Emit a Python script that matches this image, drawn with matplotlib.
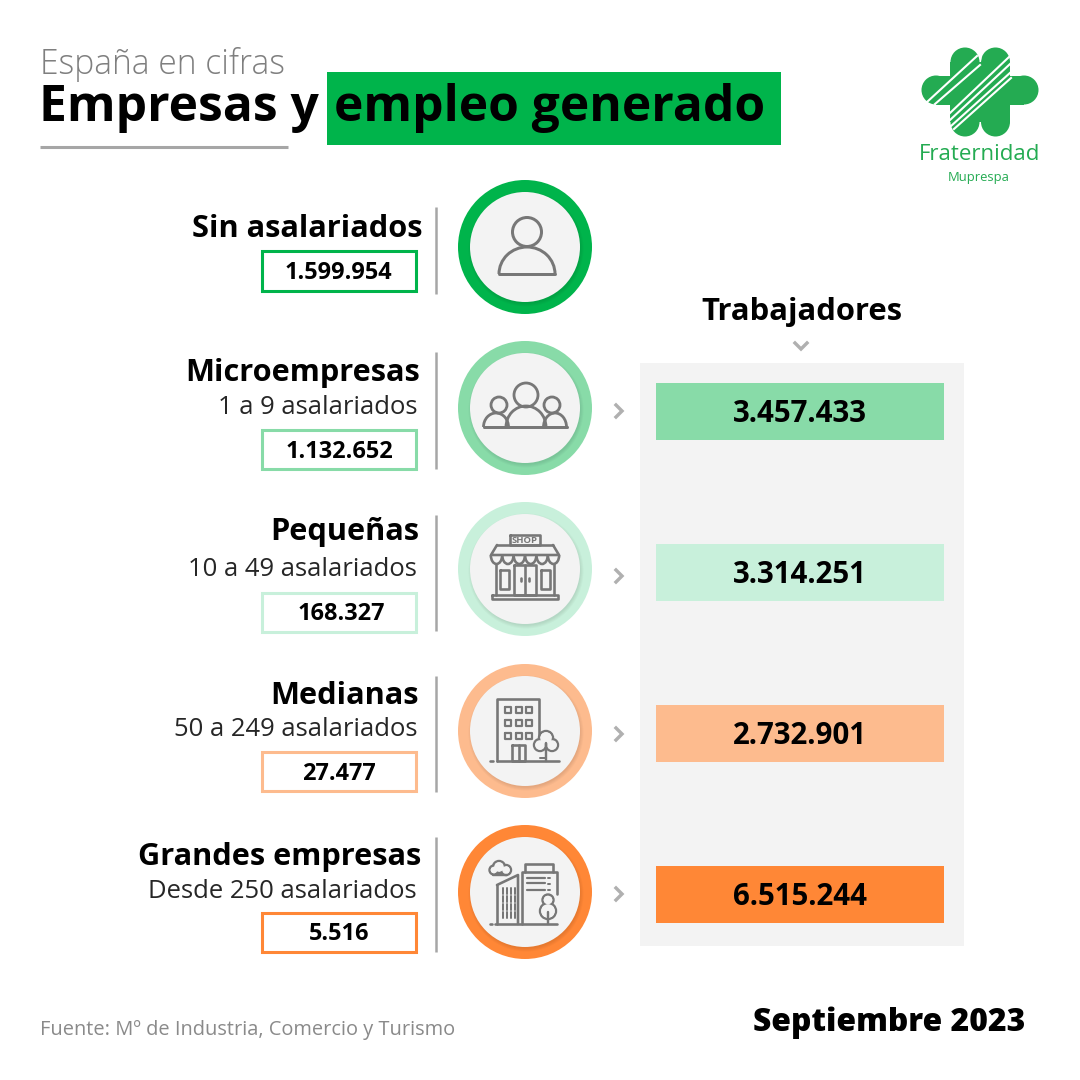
import matplotlib
matplotlib.use("Agg")
import matplotlib.pyplot as plt
from matplotlib.patches import Circle, Rectangle, Arc, Polygon

plt.rcParams['font.family'] = ['Open Sans', 'DejaVu Sans']

categories = ["Sin asalariados", "Microempresas", "Pequeñas", "Medianas", "Grandes empresas"]
sublabels = ["", "1 a 9 asalariados", "10 a 49 asalariados", "50 a 249 asalariados", "Desde 250 asalariados"]
empresas = ["1.599.954", "1.132.652", "168.327", "27.477", "5.516"]
trabajadores = ["", "3.457.433", "3.314.251", "2.732.901", "6.515.244"]
colors = ["#00b44b", "#88dba8", "#c8f0db", "#fdbb8e", "#ff8736"]

# layout, pixels from the top left
circle_y = [247, 408, 569, 731, 892]
circle_x = 525
name_y = [229, 373, 532, 696, 857]
name_x = [422, 420, 419, 419, 421]
sub_y = [0, 407, 569, 730, 891]
box_y = [(251, 291), (430, 469), (593, 632), (752, 791), (913, 952)]
box_text_x = [338, 339, 341, 339, 339]
line_y = [(207, 294), (352, 469), (515, 631), (676, 792), (837, 952)]
bar_y = [0, 383, 544, 705, 866]
chevron_y = [0, 411, 576, 734, 894]

ICON = "#777777"
LOGO = "#24ab52"
DISC = "#f3f3f3"


def px(size):
    return size * 0.72


def seg(ax, xs, ys, lw=2.6, z=6):
    ax.plot(xs, ys, color=ICON, lw=px(lw), solid_capstyle="round", solid_joinstyle="round", zorder=z)


def ring(ax, x, y, r, lw=2.6):
    ax.add_patch(Circle((x, y), r, fc="none", ec=ICON, lw=px(lw), zorder=6))


def dome(ax, x, y, w, h, lw=2.6):
    # half ellipse standing on its base line
    ax.add_patch(Arc((x, y), w, h * 2, theta1=180, theta2=360, ec=ICON, lw=px(lw), zorder=6))
    seg(ax, [x - w / 2, x + w / 2], [y, y], lw)


def box(ax, x0, y0, x1, y1, lw=2.6):
    seg(ax, [x0, x1, x1, x0, x0], [y0, y0, y1, y1, y0], lw)


def blob(ax, parts, lw=2.4):
    # outline of overlapping circles, inner edges hidden by a fill on top
    for cx, cy, r in parts:
        ax.add_patch(Circle((cx, cy), r, fc="none", ec=ICON, lw=px(lw), zorder=6))
    for cx, cy, r in parts:
        ax.add_patch(Circle((cx, cy), r - lw / 2, fc=DISC, ec="none", zorder=6.1))


def icon_person(ax, x, y):
    ring(ax, x + 2, y - 15, 14.5, 3)
    dome(ax, x + 2, y + 27, 56, 27, 3)


def icon_group(ax, x, y):
    ring(ax, x + 1, y - 13, 12, 2.8)
    ring(ax, x - 26, y - 3, 8, 2.8)
    ring(ax, x + 27, y - 3, 8, 2.8)
    dome(ax, x + 1, y + 19, 40, 21, 2.8)
    dome(ax, x - 29, y + 19, 25, 14, 2.8)
    dome(ax, x + 30, y + 19, 23, 14, 2.8)
    seg(ax, [x - 41, x + 42], [y + 19, y + 19], 2.8)


def icon_shop(ax, x, y):
    box(ax, x - 15, y - 34, x + 15, y - 24)
    ax.text(x, y - 28.5, "SHOP", ha="center", va="center", fontsize=px(9.5), fontweight="bold", color=ICON, zorder=6)
    seg(ax, [x - 28, x + 28], [y - 24, y - 24])
    seg(ax, [x - 28, x - 34, x + 34, x + 28], [y - 24, y - 14, y - 14, y - 24])
    for i in range(6):
        cx = x - 28.5 + i * 11.4
        ax.add_patch(Arc((cx, y - 14), 11.4, 18, theta1=0, theta2=180, ec=ICON, lw=px(2.6), zorder=6))
    seg(ax, [x - 29, x - 29], [y - 5, y + 26])
    seg(ax, [x + 29, x + 29], [y - 5, y + 26])
    box(ax, x - 25, y + 1, x - 16, y + 20)
    box(ax, x + 16, y + 1, x + 25, y + 20)
    box(ax, x - 11, y - 4, x + 11, y + 26)
    seg(ax, [x, x], [y - 4, y + 26])
    seg(ax, [x - 4, x - 4], [y + 9, y + 12])
    seg(ax, [x + 4, x + 4], [y + 9, y + 12])
    box(ax, x - 33, y + 26, x + 33, y + 30)


def icon_office(ax, x, y):
    seg(ax, [x - 28, x - 28, x + 14, x + 14], [y + 30, y - 32, y - 32, y + 5])
    for row in range(3):
        for col in range(3):
            bx = x - 20 + col * 10.5
            by = y - 24 + row * 13
            box(ax, bx, by, bx + 6, by + 6, 2.2)
    box(ax, x - 13, y + 14, x, y + 30)
    seg(ax, [x - 6.5, x - 6.5], [y + 14, y + 30])
    blob(ax, [(x + 21, y + 7, 7), (x + 15, y + 14, 6), (x + 27, y + 14, 6)])
    seg(ax, [x + 21, x + 21], [y + 12, y + 30], 2.4, z=6.2)
    seg(ax, [x + 15, x + 21], [y + 27, y + 27], 2.0, z=6.2)
    seg(ax, [x - 28, x + 34], [y + 30, y + 30])
    seg(ax, [x - 35, x - 32], [y + 30, y + 30])


def icon_towers(ax, x, y):
    # cloud
    blob(ax, [(x - 31, y - 22, 4.5), (x - 26, y - 25, 6), (x - 19, y - 22, 5)])
    seg(ax, [x - 32, x - 18], [y - 17, y - 17], 2.4, z=6.2)
    # glass tower
    seg(ax, [x - 28, x - 28], [y + 32, y - 7])
    seg(ax, [x - 28, x - 7, x - 7], [y - 7, y - 17, y + 32])
    for col in range(4):
        bx = x - 22 + col * 4
        for row in range(4):
            by = y - 4 + row * 8
            seg(ax, [bx, bx], [by, by + 6], 2.0)
    # main block
    seg(ax, [x - 3, x - 3, x + 32, x + 32], [y + 32, y - 20, y - 20, y + 2])
    seg(ax, [x, x, x + 28, x + 28], [y - 20, y - 28, y - 28, y - 20])
    for by in (-14, -9, -2):
        seg(ax, [x + 2, x + 20], [y + by, y + by], 2.2)
    for by in (-14, -8, -2, 4):
        seg(ax, [x + 23, x + 25], [y + by, y + by], 2.0)
    # tree
    blob(ax, [(x + 23, y + 8, 5.5), (x + 23, y + 19, 8)])
    seg(ax, [x + 23, x + 23], [y + 20, y + 32], 2.4, z=6.2)
    seg(ax, [x - 30, x + 32], [y + 32, y + 32])
    seg(ax, [x - 35, x - 33], [y + 32, y + 32])


def chevron(ax, x, y, down=False):
    if down:
        xs, ys = [x - 6, x, x + 6], [y - 3, y + 3, y - 3]
    else:
        xs, ys = [x - 3, x + 3, x - 3], [y - 6, y, y + 6]
    ax.plot(xs, ys, color="#b0b0b0", lw=px(3.4), solid_joinstyle="miter", zorder=3)


def logo(ax):
    lobes = [(965, 62), (995.5, 62), (965, 122), (995.5, 122), (936, 90), (1024, 90)]
    for cx, cy in lobes:
        ax.add_patch(Circle((cx, cy), 14.5, fc=LOGO, ec="none", zorder=3))
    ax.add_patch(Rectangle((950, 62), 60, 60, fc=LOGO, ec="none", zorder=3))
    ax.add_patch(Rectangle((936, 75.5), 88, 29, fc=LOGO, ec="none", zorder=3))
    # gaps between the twin lobes
    ax.add_patch(Polygon([(978, 46), (983, 46), (981, 62)], fc="white", ec="none", zorder=3.2))
    ax.add_patch(Polygon([(977, 138), (984, 138), (980, 125)], fc="white", ec="none", zorder=3.2))
    # white diagonal stripes
    stripes = [((927, 102), (977, 56)), ((935, 104), (980, 65)), ((950, 113), (1009, 57)),
               ((950, 120), (1010, 64)), ((951, 126), (1011, 72)), ((954, 129), (1011, 78))]
    for (x0, y0), (x1, y1) in stripes:
        ax.plot([x0, x1], [y0, y1], color="white", lw=1.5, zorder=3.5)
    ax.text(980, 155, "Fraternidad", ha="center", va="center", fontsize=px(22.3), color=LOGO, zorder=4)
    ax.text(979, 178, "Muprespa", ha="center", va="center", fontsize=px(13), color=LOGO, zorder=4)


fig = plt.figure(figsize=(10.8, 10.8), dpi=100)
ax = fig.add_axes([0, 0, 1, 1])
ax.set_xlim(0, 1080)
ax.set_ylim(1080, 0)
ax.axis("off")

# title block
ax.text(40, 64, "España en cifras", ha="left", va="center", fontsize=px(33.6), color="#7f7f7f", fontweight="light")
ax.text(39, 108, "Empresas y", ha="left", va="center", fontsize=px(49.8), fontweight="bold", color="black")
ax.add_patch(Rectangle((327, 72), 454, 73, fc=colors[0], ec="none"))
ax.text(334, 108, "empleo generado", ha="left", va="center", fontsize=px(49.8), fontweight="bold", color="black", zorder=3)
ax.plot([40, 288], [147, 147], color="#a6a6a6", lw=2.2, solid_capstyle="butt")

logo(ax)

# workers panel
ax.add_patch(Rectangle((640, 363), 324, 583, fc=DISC, ec="none"))
ax.text(802, 312, "Trabajadores", ha="center", va="center", fontsize=px(31), fontweight="bold", color="black")
chevron(ax, 801, 346, down=True)

icons = [icon_person, icon_group, icon_shop, icon_office, icon_towers]

for i, name in enumerate(categories):
    y = circle_y[i]
    ax.text(name_x[i], name_y[i], name, ha="right", va="center", fontsize=px(30.8), fontweight="bold", color="black")
    if sublabels[i]:
        ax.text(417, sub_y[i], sublabels[i], ha="right", va="center", fontsize=px(25.6), color="#262626")

    y0, y1 = box_y[i]
    ax.add_patch(Rectangle((262, y0), 154, y1 - y0, fc="white", ec=colors[i], lw=2.2))
    ax.text(box_text_x[i], (y0 + y1) / 2 + 2, empresas[i], ha="center", va="center",
            fontsize=px(23.5), fontweight="bold", color="black")

    ax.plot([436, 436], line_y[i], color="#a6a6a6", lw=1.8, solid_capstyle="butt")

    # ring, soft shadow, disc
    ax.add_patch(Circle((circle_x, y), 67, fc=colors[i], ec="none", zorder=2))
    for k in range(4):
        ax.add_patch(Circle((circle_x + 1, y + 2), 57.5 - k, fc="#000000", alpha=0.025, ec="none", zorder=2.5))
    ax.add_patch(Circle((circle_x, y), 55, fc=DISC, ec="none", zorder=3))
    icons[i](ax, circle_x, y)

    if trabajadores[i]:
        chevron(ax, 619, chevron_y[i])
        ax.add_patch(Rectangle((656, bar_y[i]), 288, 57, fc=colors[i], ec="none", zorder=2))
        ax.text(800, bar_y[i] + 31, trabajadores[i], ha="center", va="center",
                fontsize=px(29.5), fontweight="bold", color="black", zorder=3)

ax.text(40, 1030, "Fuente: Mº de Industria, Comercio y Turismo", ha="left", va="center",
        fontsize=px(20), color="#8a8a8a")
ax.text(1025, 1023, "Septiembre 2023", ha="right", va="center", fontsize=px(31.8), fontweight=800, color="black")

fig.savefig("out.png", dpi=100, facecolor="white")
